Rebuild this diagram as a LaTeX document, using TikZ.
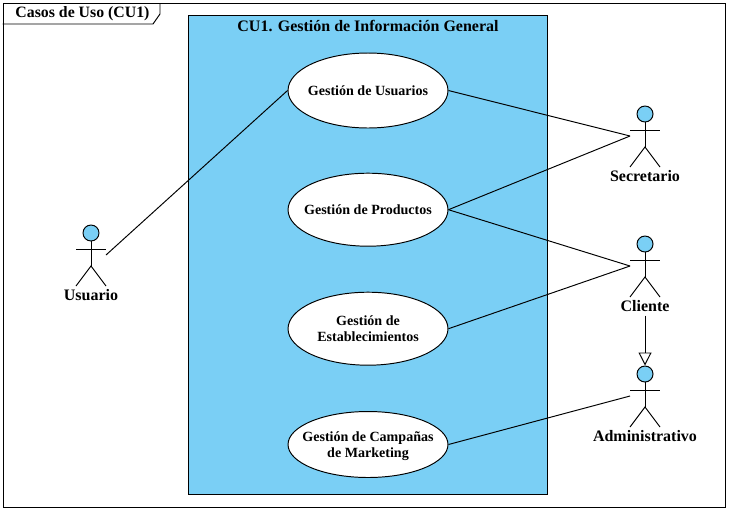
\documentclass[tikz,border=0pt]{standalone}
\usepackage{fontspec}
\setmainfont{Liberation Serif}
\usetikzlibrary{positioning,shapes.geometric,arrows.meta}
\definecolor{ucblue}{HTML}{7ACFF5}
\tikzset{
	usecase/.style={draw,ellipse,fill=white,minimum width=3.2cm,minimum height=1.46cm,inner xsep=-1.2cm,inner ysep=0pt,text depth=0pt,align=center,font=\fontsize{8}{9.5}\selectfont\bfseries},
	actor/.style={minimum width=0.6cm,minimum height=1.22cm,inner sep=0pt,outer sep=0pt},
	actortext/.style={inner sep=0pt,font=\fontsize{9.1}{10}\selectfont\bfseries},
	assoc/.style={line width=0.55pt},
}
\begin{document}
\begin{tikzpicture}[x=0.02cm,y=-0.02cm,line width=0.55pt]
	\useasboundingbox (0,0) rectangle (729,511);

	\node (frame) [draw,minimum width=14.46cm,minimum height=10.1cm,inner sep=0pt] at (364.5,255.5) {};
	\node (tag) [inner sep=0pt,anchor=west,font=\fontsize{9}{10}\selectfont\bfseries] at (15,14) {Casos de Uso (CU1)};
	\draw (frame.north west |- 0,24) -- (153,24) -- (160,14) -- (160,3);

	\node (system) [draw,fill=ucblue,minimum width=7.18cm,minimum height=9.6cm,inner sep=0pt] at (368,255) {};
	\node (systemname) [inner sep=0pt,font=\fontsize{9.1}{10}\selectfont\bfseries] at (368,26) {CU1. Gestión de Información General};

	\node (usuarios) [usecase,minimum height=1.5cm] at (368,90.5) {Gestión de Usuarios};
	\node (productos) [usecase] at (368,209.7) {Gestión de Productos};
	\node (establecimientos) [usecase] at (368,328.7) {Gestión de\\Establecimientos};
	\node (campanas) [usecase,minimum height=1.32cm] at (368,444.5) {Gestión de Campañas\\de Marketing};

	% actors
	\foreach \name/\xpos/\ypos/\txt in {usuario/91/255/Usuario,secretario/645/136/Secretario,cliente/645/266/Cliente,administrativo/645/396/Administrativo} {
		\node (\name) [actor] at (\xpos,\ypos) {};
		\node (\name text) [actortext,below=0.06cm of \name] {\txt};
		\draw[fill=ucblue] (\xpos,\ypos-22) circle (8);
		\draw (\xpos,\ypos-14) -- (\xpos,\ypos+11);
		\draw (\xpos-15,\ypos-6) -- (\xpos+15,\ypos-6);
		\draw (\xpos-15,\ypos+31) -- (\xpos,\ypos+11) -- (\xpos+15,\ypos+31);
	}

	\draw[assoc] (usuario.east) -- (usuarios.west);
	\draw[assoc] (usuarios.east) -- (secretario.west);
	\draw[assoc] (productos.east) -- (secretario.west);
	\draw[assoc] (productos.east) -- (cliente.west);
	\draw[assoc] (establecimientos.east) -- (cliente.west);
	\draw[assoc] (campanas.east) -- (administrativo.west);
	\draw[-{Triangle[open,length=0.26cm,width=0.26cm,fill=white]}] (clientetext) ++(0,10) -- (administrativo.north);
\end{tikzpicture}
\end{document}
